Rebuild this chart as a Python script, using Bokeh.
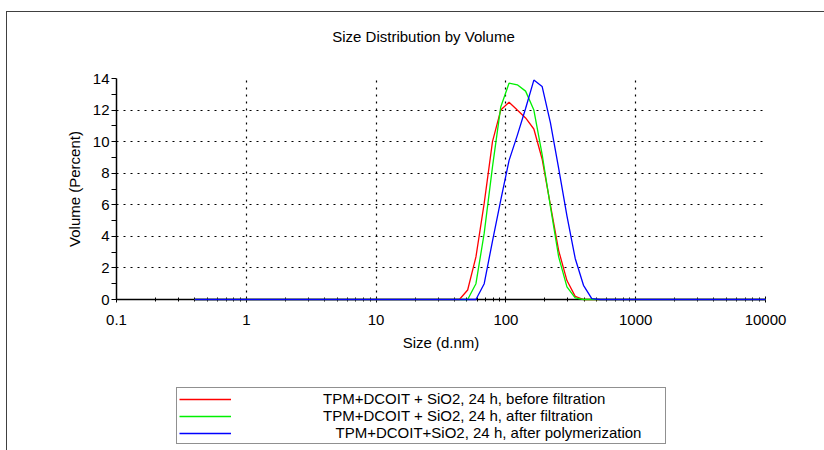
from bokeh.plotting import figure
from bokeh.layouts import column
from bokeh.models import (Legend, LegendItem, FixedTicker, ColumnDataSource, Range1d,
                          InlineStyleSheet, Label)
from bokeh.embed import file_html
from bokeh.resources import INLINE

# ---- data (Malvern size classes, d.nm) ----
sizes = [0.4, 0.4632, 0.5365, 0.6213, 0.7195, 0.8332, 0.9649, 1.117, 1.294, 1.499,
         1.736, 2.010, 2.328, 2.696, 3.122, 3.615, 4.187, 4.849, 5.615, 6.503,
         7.531, 8.721, 10.10, 11.70, 13.54, 15.69, 18.17, 21.04, 24.36, 28.21,
         32.67, 37.84, 43.82, 50.75, 58.77, 68.06, 78.82, 91.28, 105.7, 122.4,
         141.8, 164.2, 190.1, 220.2, 255.0, 295.3, 342.0, 396.1, 458.7, 531.2,
         615.1, 712.4, 825.0, 955.4, 1106, 1281, 1484, 1718, 1990, 2305,
         2669, 3091, 3580, 4145, 4801, 5560, 6439, 7456, 8635, 10000]

before_filtration = [0, 0, 0, 0, 0, 0, 0, 0, 0, 0,
                     0, 0, 0, 0, 0, 0, 0, 0, 0, 0,
                     0, 0, 0, 0, 0, 0, 0, 0, 0, 0,
                     0, 0, 0, 0.6, 2.7, 6.1, 10.0, 12.0, 12.5, 12.0,
                     11.5, 10.8, 8.9, 6.0, 3.1, 1.2, 0.2, 0, 0, 0,
                     0, 0, 0, 0, 0, 0, 0, 0, 0, 0,
                     0, 0, 0, 0, 0, 0, 0, 0, 0, 0]

after_filtration = [0, 0, 0, 0, 0, 0, 0, 0, 0, 0,
                    0, 0, 0, 0, 0, 0, 0, 0, 0, 0,
                    0, 0, 0, 0, 0, 0, 0, 0, 0, 0,
                    0, 0, 0, 0, 1.0, 4.2, 8.4, 12.2, 13.7, 13.6,
                    13.2, 12.0, 9.2, 5.9, 2.7, 0.8, 0.1, 0, 0, 0,
                    0, 0, 0, 0, 0, 0, 0, 0, 0, 0,
                    0, 0, 0, 0, 0, 0, 0, 0, 0, 0]

after_polymerization = [0, 0, 0, 0, 0, 0, 0, 0, 0, 0,
                        0, 0, 0, 0, 0, 0, 0, 0, 0, 0,
                        0, 0, 0, 0, 0, 0, 0, 0, 0, 0,
                        0, 0, 0, 0, 0, 1.0, 3.7, 6.3, 8.8, 10.4,
                        12.1, 13.9, 13.5, 11.2, 8.3, 5.3, 2.6, 0.9, 0.05, 0,
                        0, 0, 0, 0, 0, 0, 0, 0, 0, 0,
                        0, 0, 0, 0, 0, 0, 0, 0, 0, 0]

series = [before_filtration, after_filtration, after_polymerization]
series_labels = ["TPM+DCOIT + SiO2, 24 h, before filtration",
                 "TPM+DCOIT + SiO2, 24 h, after filtration",
                 "\u00a0\u00a0\u00a0TPM+DCOIT+SiO2, 24 h, after polymerization"]
series_colors = ["#ff0000", "#00f000", "#0000ff"]
chart_title = "Size Distribution by Volume"

x_ticks = [0.1, 1, 10, 100, 1000, 10000]
x_minor = [0.2, 0.3, 0.4, 0.5, 0.6, 0.7, 0.8, 0.9,
           2, 3, 4, 5, 6, 7, 8, 9,
           20, 30, 40, 50, 60, 70, 80, 90,
           200, 300, 400, 500, 600, 700, 800, 900,
           2000, 3000, 4000, 5000, 6000, 7000, 8000, 9000]
y_ticks = [0, 2, 4, 6, 8, 10, 12, 14]
y_minor = [1, 3, 5, 7, 9, 11, 13]

FONT = "Liberation Sans"
FS = "15px"


def strip(height):
    f = figure(width=824, height=height, x_axis_type="log",
               x_range=Range1d(0.1, 10000), y_range=Range1d(-20, -10),
               output_backend="svg", toolbar_location=None,
               x_axis_location=None, y_axis_location=None,
               min_border_left=0, min_border_right=0, min_border_top=0, min_border_bottom=0)
    f.outline_line_color = None
    f.background_fill_color = None
    f.border_fill_color = None
    f.xgrid.visible = False
    f.ygrid.visible = False
    return f


# ---------------- title strip ----------------
top = strip(45)
top.add_layout(Label(x=307, y=9, x_units="screen", y_units="screen", text=chart_title,
                     text_font=FONT, text_font_size=FS, text_color="black",
                     text_align="center", text_baseline="middle"))

# ---------------- main chart ----------------
p = figure(width=824, height=310, x_axis_type="log",
           x_range=Range1d(0.1, 10000), y_range=Range1d(0, 14),
           output_backend="svg", toolbar_location=None,
           min_border_left=116, min_border_right=59,
           min_border_top=33, min_border_bottom=56)
p.outline_line_color = None
p.background_fill_color = None
p.border_fill_color = None

for vals, col in zip(series, series_colors):
    src = ColumnDataSource(dict(x=sizes, y=vals))
    r = p.line("x", "y", source=src, line_color=col, line_width=1.3)
    r.level = "overlay"

xa = p.xaxis[0]
xa.ticker = FixedTicker(ticks=x_ticks, minor_ticks=x_minor)
xa.major_label_overrides = {0.1: "0.1", 1: "1", 10: "10", 100: "100",
                            1000: "1000", 10000: "10000"}
xa.axis_label = "Size (d.nm)"
ya = p.yaxis[0]
ya.ticker = FixedTicker(ticks=y_ticks, minor_ticks=y_minor)
ya.axis_label = "Volume (Percent)"

for ax in (xa, ya):
    ax.axis_line_color = "black"
    ax.axis_line_width = 1.5
    ax.major_tick_line_color = "black"
    ax.minor_tick_line_color = "black"
    ax.major_tick_line_width = 1
    ax.minor_tick_line_width = 1
    ax.major_label_text_font = FONT
    ax.major_label_text_font_size = FS
    ax.major_label_text_color = "black"
    ax.axis_label_text_font = FONT
    ax.axis_label_text_font_size = FS
    ax.axis_label_text_font_style = "normal"
    ax.axis_label_text_color = "black"

xa.major_tick_in = 3
xa.major_tick_out = 3
xa.minor_tick_in = 2
xa.minor_tick_out = 2
xa.major_label_standoff = 12
xa.axis_label_standoff = 6

ya.major_tick_in = 0
ya.major_tick_out = 5
ya.minor_tick_in = 0
ya.minor_tick_out = 5
ya.major_label_standoff = 2
ya.axis_label_standoff = 7

for g in (p.xgrid[0], p.ygrid[0]):
    g.grid_line_color = "black"
    g.grid_line_dash = "2 5"
    g.grid_line_width = 1.2
p.xgrid[0].ticker = FixedTicker(ticks=x_ticks)
p.ygrid[0].ticker = FixedTicker(ticks=y_ticks)

# ---------------- legend strip ----------------
# same series, drawn into a y-range that keeps them out of view; only the legend shows
leg = strip(95)
leg_renderers = []
for vals, col in zip(series, series_colors):
    src = ColumnDataSource(dict(x=sizes, y=vals))
    leg_renderers.append(leg.line("x", "y", source=src, line_color=col, line_width=1.5))

legend = Legend(items=[LegendItem(label=l, renderers=[r]) for l, r in zip(series_labels, leg_renderers)],
                location=(60, 6), orientation="vertical",
                glyph_width=52, glyph_height=16, label_height=16, label_width=340,
                label_standoff=92, padding=2, spacing=0, margin=0,
                label_text_font=FONT, label_text_font_size=FS,
                label_text_color="black",
                border_line_color="#222222", border_line_width=1.5,
                background_fill_color="white", background_fill_alpha=1)
leg.add_layout(legend)

layout = column(top, p, leg, spacing=0)
layout.stylesheets = [InlineStyleSheet(css="""
:host { position: relative; overflow: hidden; background: white; }
:host::after { content: ''; position: absolute; left: 6px; top: 11px;
  width: 2000px; height: 2000px; border: 1.5px solid #404040;
  box-sizing: border-box; pointer-events: none; }
""")]

open("out.html", "w").write(file_html(layout, INLINE))
